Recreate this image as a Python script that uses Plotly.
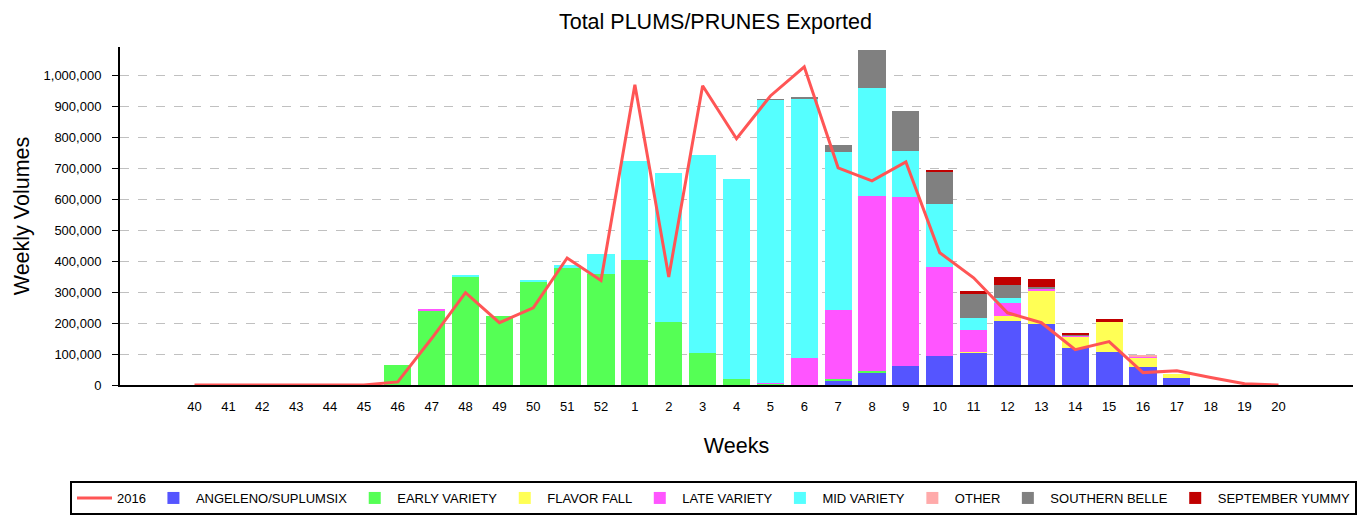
import plotly.graph_objects as go

weeks = ["40","41","42","43","44","45","46","47","48","49","50","51","52",
         "1","2","3","4","5","6","7","8","9","10","11","12","13","14","15","16","17","18","19","20"]

line_2016 = [0,0,2000,0,0,0,10000,150000,298000,201000,249000,410000,337000,
             969000,349000,966000,795000,933000,1027000,701000,659000,720000,427000,346000,233000,201000,
             114000,140000,40000,46000,24000,4000,0]

angeleno = [0,0,0,0,0,0,0,0,0,0,0,0,0,
            0,0,0,0,0,0,14000,40000,62000,94000,104000,207000,198000,120000,107000,59000,24000,0,0,0]
early = [0,0,0,0,0,0,65000,240000,349000,223000,334000,378000,359000,
         404000,204000,104000,20000,5000,0,6000,6000,0,0,0,0,0,0,0,0,0,0,0,0]
flavor = [0,0,0,0,0,0,0,0,0,0,0,0,0,
          0,0,0,0,0,0,0,0,0,0,3000,17000,106000,36000,97000,29000,12000,0,0,0]
late = [0,0,0,0,0,0,0,3000,0,0,0,0,0,
        0,0,0,0,3000,88000,223000,565000,545000,287000,71000,41000,7000,3000,0,3000,0,0,0,0]
mid = [0,0,0,0,0,0,0,0,4000,0,3000,10000,65000,
       319000,481000,639000,645000,912000,835000,509000,349000,149000,204000,39000,17000,0,0,0,2000,0,0,0,0]
other = [0,0,0,0,0,0,0,0,0,0,0,0,0,
         0,0,0,0,0,0,0,0,0,0,0,0,0,0,0,2000,0,0,0,0]
southern = [0,0,0,0,0,0,0,0,0,0,0,0,0,
            0,0,0,0,3000,7000,24000,122000,129000,103000,78000,42000,6000,2000,0,0,0,0,0,0]
september = [0,0,0,0,0,0,0,0,0,0,0,0,0,
             0,0,0,0,0,0,0,0,0,6000,9000,25000,26000,8000,10000,0,0,0,0,0]

series = [
    ("ANGELENO/SUPLUMSIX", angeleno, "#5555FF"),
    ("EARLY VARIETY", early, "#55FF55"),
    ("FLAVOR FALL", flavor, "#FFFF55"),
    ("LATE VARIETY", late, "#FF55FF"),
    ("MID VARIETY", mid, "#55FFFF"),
    ("OTHER", other, "#FFAAAA"),
    ("SOUTHERN BELLE", southern, "#808080"),
    ("SEPTEMBER YUMMY", september, "#C00000"),
]

fig = go.Figure()
fig.add_trace(go.Scatter(x=weeks, y=line_2016, mode="lines", name="2016",
                         line=dict(color="#FF5555", width=3)))
for name, vals, col in series:
    fig.add_trace(go.Bar(x=weeks, y=vals, name=name, marker=dict(color=col, line=dict(width=0))))

W, H = 1361, 516
L, R, T, B = 120, 8, 47, 131
pw, ph = W - L - R, H - T - B

fig.update_layout(
    barmode="stack",
    bargap=0.2,
    width=W, height=H,
    paper_bgcolor="white", plot_bgcolor="white",
    font=dict(family="Liberation Sans, Arial, sans-serif", color="#000"),
    margin=dict(l=L, r=R, t=T, b=B, autoexpand=False),
    title=dict(text="Total PLUMS/PRUNES Exported", x=0.5257, xanchor="center",
               y=1 - 21 / H, yanchor="middle", xref="container", yref="container",
               font=dict(size=21.5, color="#000")),
    showlegend=True,
    legend=dict(orientation="h",
                x=(70 - L) / pw, xanchor="left", y=(H - B - 481) / ph, yanchor="top",
                bordercolor="black", borderwidth=2, font=dict(size=13),
                traceorder="normal", itemwidth=35),
)
fig.update_xaxes(
    type="category", range=[-2.2, 34.2], automargin=False,
    showline=True, linecolor="black", linewidth=2,
    showgrid=False, ticks="", tickfont=dict(size=13), ticklabelstandoff=8,
    title=dict(text="Weeks", font=dict(size=21.5), standoff=25),
)
fig.update_yaxes(
    range=[0, 1091000], automargin=False,
    tickvals=[0,100000,200000,300000,400000,500000,600000,700000,800000,900000,1000000],
    tickformat=",d",
    showline=True, linecolor="black", linewidth=2,
    ticks="outside", ticklen=6, tickcolor="black", tickfont=dict(size=13), ticklabelstandoff=8,
    showgrid=True, gridcolor="#C0C0C0", griddash="dash", gridwidth=1,
    zeroline=False,
    title=dict(text="Weekly Volumes", font=dict(size=21.5), standoff=8),
)

fig.write_html("out.html", config={"displayModeBar": False},
               post_script="document.body.style.margin='0';")
